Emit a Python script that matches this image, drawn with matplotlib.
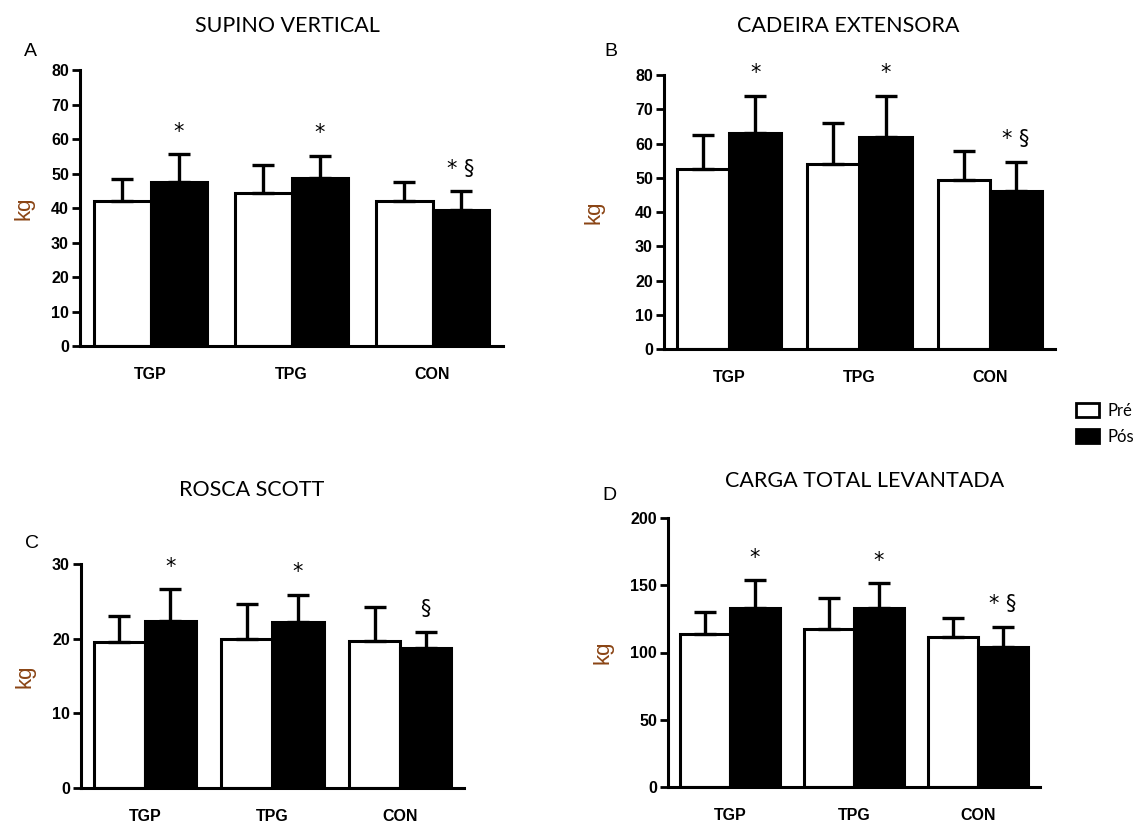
import matplotlib.pyplot as plt
import numpy as np
from matplotlib.patches import Patch

# group labels and series
groups = ["TGP", "TPG", "CON"]

supino_pre = [42.0, 44.3, 42.0]
supino_pre_sd = [6.4, 8.2, 5.6]
supino_pos = [47.5, 48.7, 39.4]
supino_pos_sd = [8.1, 6.4, 5.5]
supino_marks = ["*", "*", "* §"]

cadeira_pre = [52.5, 53.9, 49.3]
cadeira_pre_sd = [9.9, 12.2, 8.4]
cadeira_pos = [63.2, 61.8, 46.1]
cadeira_pos_sd = [10.8, 12.2, 8.5]
cadeira_marks = ["*", "*", "* §"]

rosca_pre = [19.5, 20.0, 19.7]
rosca_pre_sd = [3.5, 4.7, 4.6]
rosca_pos = [22.3, 22.2, 18.8]
rosca_pos_sd = [4.3, 3.7, 2.1]
rosca_marks = ["*", "*", "§"]

carga_pre = [114.0, 117.7, 111.3]
carga_pre_sd = [16.1, 22.8, 14.6]
carga_pos = [132.8, 132.8, 104.1]
carga_pos_sd = [20.9, 18.6, 14.9]
carga_marks = ["*", "*", "* §"]

W, H = 1143, 825
fig = plt.figure(figsize=(W / 100, H / 100), dpi=100)

title_font = "Lato"
kg_color = "#8a4414"


def px_axes(x0, x1, ytop, ybot):
    """Make axes from pixel box (y measured from top)"""
    return fig.add_axes([x0 / W, 1 - ybot / H, (x1 - x0) / W, (ybot - ytop) / H])


def draw_panel(ax, pre, pre_sd, pos, pos_sd, marks, ymax, step, title, letter,
               title_xy, letter_xy, kg_pad):
    x = np.arange(len(groups))
    w = 0.4
    ekw = dict(elinewidth=2.4, capthick=2.4, ecolor="black")
    ax.bar(x - w / 2, pre, w, color="white", edgecolor="black", linewidth=2.2,
           yerr=[np.zeros(3), pre_sd], capsize=8, error_kw=ekw, zorder=2)
    ax.bar(x + w / 2, pos, w, color="black", edgecolor="black", linewidth=2.2,
           yerr=[np.zeros(3), pos_sd], capsize=8, error_kw=ekw, zorder=2)
    for i in range(3):
        top = pos[i] + pos_sd[i]
        ax.annotate(marks[i], (x[i] + w / 2, top), xytext=(0, 9), textcoords="offset points",
                    ha="center", va="bottom", fontsize=15, family="DejaVu Sans")
    ax.set_xlim(-0.5, 2.5)
    ax.set_ylim(0, ymax)
    ax.set_yticks(np.arange(0, ymax + 1, step))
    ax.set_xticks(x)
    ax.set_xticklabels(groups, fontsize=11.5, fontweight="bold", family="Liberation Sans")
    for lab in ax.get_yticklabels():
        lab.set_fontsize(11.5)
        lab.set_fontweight("bold")
        lab.set_family("Liberation Sans")
    ax.tick_params(axis="x", length=0, pad=15)
    ax.tick_params(axis="y", length=6, width=2, pad=2)
    ax.spines["top"].set_visible(False)
    ax.spines["right"].set_visible(False)
    ax.spines["left"].set_linewidth(2.2)
    ax.spines["bottom"].set_linewidth(2.2)
    ax.set_ylabel("kg", fontsize=16, color=kg_color, family="Liberation Sans", labelpad=kg_pad)
    fig.text(title_xy[0] / W, 1 - title_xy[1] / H, title, fontsize=15.5, family=title_font,
             ha="center", va="center")
    fig.text(letter_xy[0] / W, 1 - letter_xy[1] / H, letter, fontsize=14, family="Liberation Sans",
             ha="center", va="center")


ax_a = px_axes(80, 503, 70, 346)
draw_panel(ax_a, supino_pre, supino_pre_sd, supino_pos, supino_pos_sd, supino_marks,
           80, 10, "SUPINO VERTICAL", "A", (287, 26), (30, 51), 12)

ax_b = px_axes(664, 1055, 75, 349)
draw_panel(ax_b, cadeira_pre, cadeira_pre_sd, cadeira_pos, cadeira_pos_sd, cadeira_marks,
           80, 10, "CADEIRA EXTENSORA", "B", (848, 26), (611, 51), 22)

ax_c = px_axes(81, 464, 564, 788)
draw_panel(ax_c, rosca_pre, rosca_pre_sd, rosca_pos, rosca_pos_sd, rosca_marks,
           30, 10, "ROSCA SCOTT", "C", (252, 490), (32, 543), 12)

ax_d = px_axes(668, 1040, 518, 787)
draw_panel(ax_d, carga_pre, carga_pre_sd, carga_pos, carga_pos_sd, carga_marks,
           200, 50, "CARGA TOTAL LEVANTADA", "D", (865, 481), (609, 495), 12)

handles = [Patch(facecolor="white", edgecolor="black", linewidth=2, label="Pré"),
           Patch(facecolor="black", edgecolor="black", linewidth=2, label="Pós")]
fig.legend(handles=handles, loc="upper left", bbox_to_anchor=(1061 / W, 1 - 388 / H),
           frameon=False, prop={"family": title_font, "size": 12},
           handlelength=1.4, handleheight=0.9, handletextpad=0.5, labelspacing=0.6)

fig.savefig("out.png", dpi=100)
